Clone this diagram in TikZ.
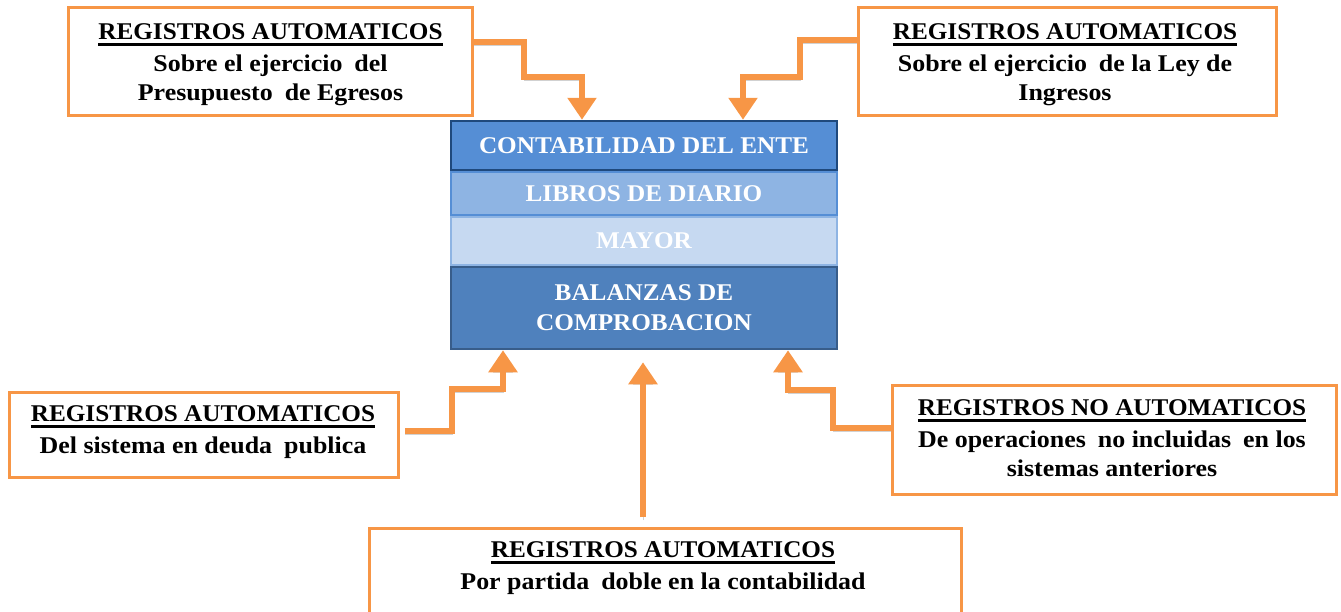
\documentclass[tikz,border=0pt]{standalone}
\usepackage{fontspec}
\setmainfont{Liberation Serif}[FakeStretch=1.05]
\newfontfamily\bodyfont{Liberation Serif}[FakeStretch=1.08]
\usetikzlibrary{arrows.meta,calc}
\definecolor{orng}{HTML}{F79646}
\definecolor{rowA}{HTML}{558ED5}
\definecolor{rowAb}{HTML}{1F497D}
\definecolor{rowB}{HTML}{8EB4E3}
\definecolor{rowC}{HTML}{C6D9F1}
\definecolor{rowD}{HTML}{4F81BD}
\definecolor{rowDb}{HTML}{385D8A}
\newcommand{\ulbar}[1]{\setbox0=\hbox{#1}\rlap{\rule[-7pt]{\wd0}{3pt}}\box0}
\newcommand{\dsp}{\hspace{0.5em}}
\begin{document}
\begin{tikzpicture}[x=1pt,y=-1pt,
  regbox/.style={rectangle,draw=orng,line width=3pt,fill=white,inner sep=0pt},
  regtext/.style={align=center,anchor=north,inner sep=0pt,font=\bfseries\fontsize{24}{29}\selectfont},
  rowbox/.style={rectangle,inner sep=0pt,line width=2.5pt,minimum width=386pt,text=white,align=center,font=\bfseries\fontsize{24}{30}\selectfont},
  arr/.style={draw=orng,line width=5.5pt,-{Triangle[width=28pt,length=22pt]},
    preaction={draw=black!18,transform canvas={yshift=-3pt}}}]
\useasboundingbox (0,0) rectangle (1341,611);
\begin{scope}
\clip (0,0) rectangle (1341,611);
\node[regbox,minimum width=592pt,minimum height=120pt] (bot) at (665.5,588.5) {};
\end{scope}
\node[regbox,minimum width=404pt,minimum height=108pt] (tl) at (270.5,61.5) {};
\node[regbox,minimum width=418pt,minimum height=108pt] (tr) at (1067.5,61.5) {};
\node[regbox,minimum width=389pt,minimum height=85pt] (bl) at (204,435) {};
\node[regbox,minimum width=444pt,minimum height=109pt] (br) at (1114.5,440) {};

\node[regtext] (tlt) at (270.5,23) {\ulbar{REGISTROS AUTOMATICOS}\\[3pt] {\bodyfont Sobre el ejercicio\dsp del}\\ {\bodyfont Presupuesto\dsp de Egresos}};
\node[regtext] (trt) at (1065,23) {\ulbar{REGISTROS AUTOMATICOS}\\[3pt] {\bodyfont Sobre el ejercicio\dsp de la Ley de}\\ {\bodyfont Ingresos}};
\node[regtext] (blt) at (203,405) {\ulbar{REGISTROS AUTOMATICOS}\\[3pt] {\bodyfont Del sistema en deuda\dsp publica}};
\node[regtext] (brt) at (1112,399) {\ulbar{REGISTROS NO AUTOMATICOS}\\[3pt] {\bodyfont De operaciones\dsp no incluidas\dsp en los}\\ {\bodyfont sistemas anteriores}};
\node[regtext] (bott) at (663,541) {\ulbar{REGISTROS AUTOMATICOS}\\[3pt] {\bodyfont Por partida\dsp doble en la contabilidad}};

\node[rowbox,fill=rowA,draw=rowAb,minimum height=49pt] (r1) at (644,145.5) {CONTABILIDAD DEL ENTE};
\node[rowbox,fill=rowB,draw=rowA,minimum height=43pt] (r2) at (644,193.5) {LIBROS DE DIARIO};
\node[rowbox,fill=rowC,draw=rowB,minimum height=48pt] (r3) at (644,241) {MAYOR};
\node[rowbox,fill=rowD,draw=rowDb,minimum height=82pt] (r4) at (644,308) {BALANZAS DE\\COMPROBACION};

\draw[arr] ([yshift=19.5pt]tl.east) -- (524,42) -- (524,77) -- (582,77) -- (582,0 |- r1.north);
\draw[arr] ([yshift=21.5pt]tr.west) -- (800,40) -- (800,77) -- (743,77) -- (743,0 |- r1.north);
\draw[arr] ([shift={(5pt,4pt)}]bl.east) -- (452,431) -- (452,389) -- (503,389) -- (503,0 |- r4.south);
\draw[arr] ([yshift=12pt]br.west) -- (833,428) -- (833,390) -- (788,390) -- (788,0 |- r4.south);
\draw[arr] ($(643,0 |- bot.north)+(0,-10)$) -- ($(643,0 |- r4.south)+(0,12)$);
\end{tikzpicture}
\end{document}
